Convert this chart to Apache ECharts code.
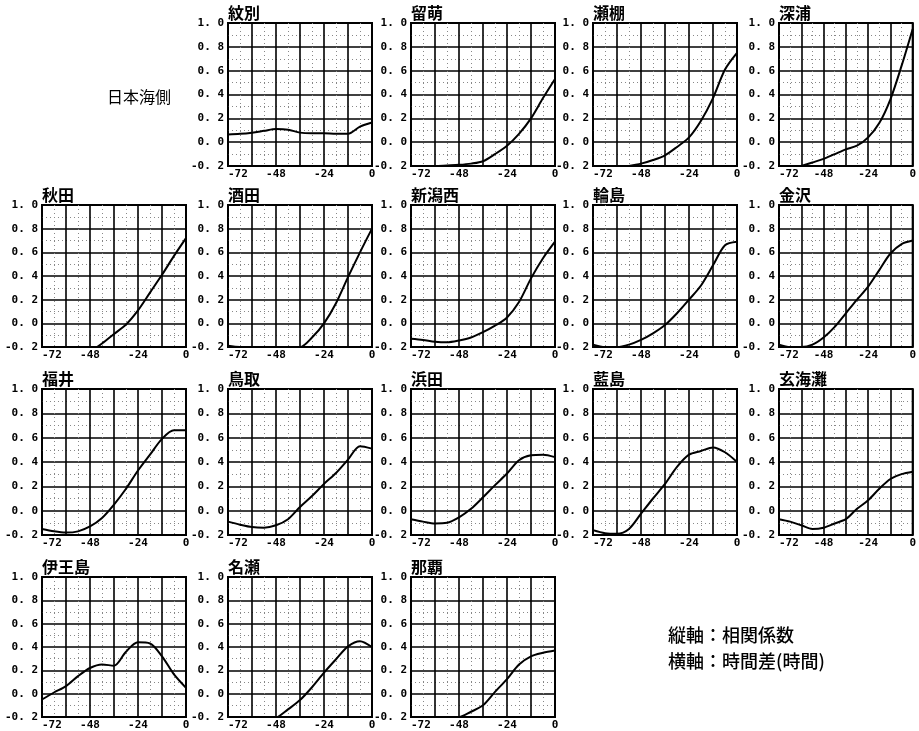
<!DOCTYPE html>
<html><head><meta charset="utf-8">
<script src="https://cdn.jsdelivr.net/npm/echarts@6/dist/echarts.min.js"></script>
<style>html,body{margin:0;padding:0;background:#fff}#c{width:919px;height:731px}</style>
</head><body><div id="c"></div>
<script>
// ---- data ----
const hours = [-72,-66,-60,-54,-48,-42,-36,-30,-24,-18,-12,-6,0];
const xTickValues = [-72,-48,-24,0];
const xTickLabels = ['-72','-48','-24','0'];
const yTickValues = [-0.2,0,0.2,0.4,0.6,0.8,1.0];
const yTickLabels = ['-0. 2','0. 0','0. 2','0. 4','0. 6','0. 8','1. 0'];

const stationNames = ['紋別','留萌','瀬棚','深浦','秋田','酒田','新潟西','輪島','金沢','福井','鳥取','浜田','藍島','玄海灘','伊王島','名瀬','那覇'];
const monbetsu  = [0.065,0.07,0.08,0.095,0.11,0.105,0.08,0.075,0.075,0.07,0.07,0.13,0.165];
const rumoi     = [-0.2,-0.2,-0.2,-0.195,-0.19,-0.18,-0.16,-0.10,-0.03,0.07,0.20,0.37,0.53];
const setana    = [-0.3,-0.27,-0.24,-0.2,-0.18,-0.15,-0.11,-0.04,0.04,0.18,0.37,0.61,0.75];
const fukaura   = [-0.25,-0.23,-0.2,-0.17,-0.14,-0.10,-0.06,-0.03,0.04,0.16,0.36,0.64,0.95];
const akita     = [-0.42,-0.38,-0.34,-0.30,-0.24,-0.17,-0.09,-0.01,0.11,0.26,0.41,0.57,0.72];
const sakata    = [-0.19,-0.2,-0.2,-0.2,-0.2,-0.2,-0.2,-0.12,0.0,0.17,0.39,0.60,0.80];
const niigataW  = [-0.13,-0.14,-0.155,-0.16,-0.145,-0.12,-0.075,-0.02,0.05,0.18,0.38,0.55,0.69];
const wajima    = [-0.18,-0.2,-0.2,-0.18,-0.14,-0.085,-0.015,0.085,0.20,0.32,0.49,0.66,0.69];
const kanazawa  = [-0.18,-0.2,-0.2,-0.18,-0.12,-0.03,0.085,0.20,0.31,0.45,0.59,0.67,0.70];
const fukui     = [-0.15,-0.17,-0.18,-0.17,-0.13,-0.06,0.05,0.18,0.33,0.46,0.59,0.66,0.66];
const tottori   = [-0.09,-0.115,-0.135,-0.14,-0.12,-0.07,0.03,0.12,0.22,0.31,0.42,0.53,0.51];
const hamada    = [-0.07,-0.09,-0.105,-0.10,-0.055,0.015,0.11,0.21,0.305,0.415,0.455,0.46,0.44];
const aishima   = [-0.16,-0.185,-0.19,-0.15,-0.025,0.10,0.22,0.36,0.46,0.49,0.52,0.48,0.40];
const genkainada= [-0.07,-0.09,-0.12,-0.15,-0.14,-0.105,-0.07,0.015,0.085,0.18,0.26,0.30,0.32];
const iojima    = [-0.05,0.01,0.065,0.15,0.22,0.25,0.24,0.36,0.44,0.43,0.32,0.165,0.05];
const naze      = [-0.4,-0.35,-0.3,-0.25,-0.21,-0.135,-0.055,0.055,0.18,0.295,0.405,0.45,0.40];
const naha      = [-0.2,-0.2,-0.2,-0.2,-0.2,-0.155,-0.10,0.015,0.125,0.25,0.32,0.35,0.37];
const stationValues = [monbetsu,rumoi,setana,fukaura,akita,sakata,niigataW,wajima,kanazawa,fukui,tottori,hamada,aishima,genkainada,iojima,naze,naha];

const seaSideLabel = '日本海側';
const noteLines = ['縦軸：相関係数','横軸：時間差(時間)'];

// ---- layout ----
const colLeft = [42, 228, 411, 593, 779];
const rowTop = [23, 205, 389, 577];
const rowH = [143, 142, 146, 143];
const panelW = 144;
const cells = [[0,1],[0,2],[0,3],[0,4],[1,0],[1,1],[1,2],[1,3],[1,4],[2,0],[2,1],[2,2],[2,3],[2,4],[3,0],[3,1],[3,2]];

const tickFont = {fontFamily:'DejaVu Sans Mono', fontWeight:'bold', fontSize:11, color:'#000'};
const minorLine = {show:true, lineStyle:{color:'#888', type:[1,3], width:1}};
const grids=[], xAxes=[], yAxes=[], series=[], graphics=[];
stationNames.forEach((name,i)=>{
  const [r,c] = cells[i];
  const left = colLeft[c], top = rowTop[r], h = rowH[r];
  grids.push({left:left, top:top, width:panelW, height:h, show:true, borderColor:'#000', borderWidth:2, containLabel:false});
  xAxes.push({type:'value', gridIndex:i, min:-72, max:0, interval:12,
    axisLine:{show:false}, axisTick:{show:false},
    axisLabel:Object.assign({margin:3, alignMinLabel:'left', formatter:(v)=>{const k=xTickValues.indexOf(Math.round(v)); return k>=0?xTickLabels[k]:'';}}, tickFont),
    splitLine:{show:true, lineStyle:{color:'#000', width:1.6}},
    minorTick:{show:false, splitNumber:2},
    minorSplitLine:minorLine
  });
  yAxes.push({type:'value', gridIndex:i, min:-0.2, max:1.0, interval:0.2,
    axisLine:{show:false}, axisTick:{show:false},
    axisLabel:Object.assign({margin:4, formatter:(v)=>{const k=yTickValues.findIndex(t=>Math.abs(t-v)<1e-6); return k>=0?yTickLabels[k]:'';}}, tickFont),
    splitLine:{show:true, lineStyle:{color:'#000', width:1.6}},
    minorTick:{show:false, splitNumber:2},
    minorSplitLine:minorLine
  });
  series.push({type:'line', xAxisIndex:i, yAxisIndex:i, name:name,
    data: hours.map((hh,j)=>[hh, stationValues[i][j]]),
    smooth:0.3, showSymbol:false, symbol:'none', clip:true,
    lineStyle:{color:'#000', width:2}, animation:false});
  graphics.push({type:'text', left:left, top:top-18,
    style:{text:name, font:'bold 16px "Noto Sans CJK JP"', fill:'#000'}});
});
graphics.push({type:'text', left:107, top:89, style:{text:seaSideLabel, font:'16px "Noto Sans CJK JP"', fill:'#000'}});
graphics.push({type:'text', left:668, top:626, style:{text:noteLines[0], font:'500 18px "Noto Sans CJK JP"', fill:'#000'}});
graphics.push({type:'text', left:668, top:652, style:{text:noteLines[1], font:'500 18px "Noto Sans CJK JP"', fill:'#000'}});

const chart = echarts.init(document.getElementById('c'), null, {renderer:'canvas'});
chart.setOption({animation:false, backgroundColor:'#fff', grid:grids, xAxis:xAxes, yAxis:yAxes, series:series, graphic:graphics});
</script></body></html>
